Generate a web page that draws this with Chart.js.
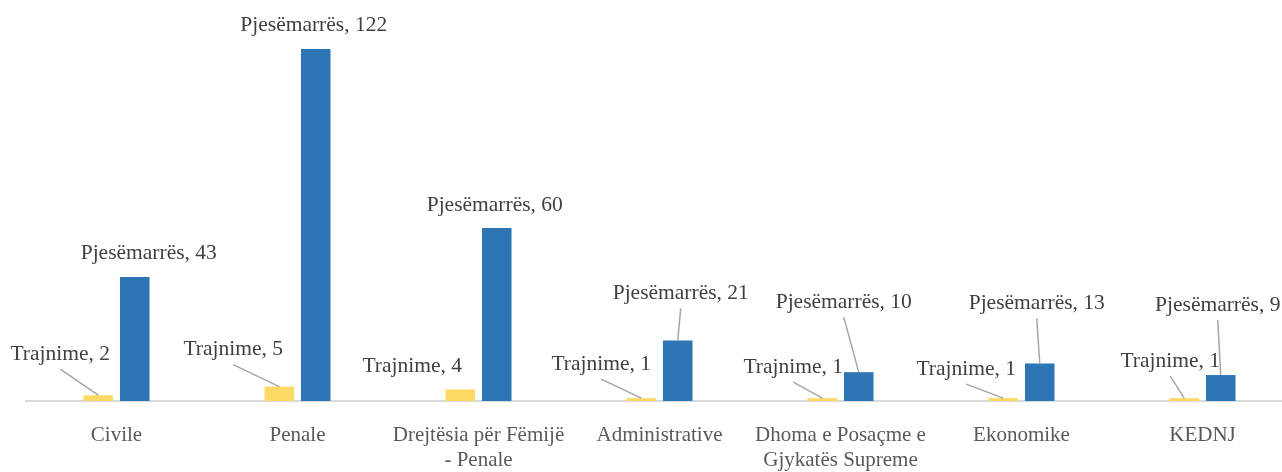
<!DOCTYPE html>
<html>
<head>
<meta charset="utf-8">
<script src="https://cdn.jsdelivr.net/npm/chart.js@4/dist/chart.umd.min.js"></script>
<style>
  html, body { margin: 0; padding: 0; background: #ffffff; overflow: hidden; }
  #wrap { width: 1300px; height: 472px; }
</style>
</head>
<body>
<div id="wrap"><canvas id="c" width="1300" height="472"></canvas></div>
<script>
// ---- data ----
const categories = [
  "Civile",
  "Penale",
  ["Drejtësia për Fëmijë", "- Penale"],
  "Administrative",
  ["Dhoma e Posaçme e", "Gjykatës Supreme"],
  "Ekonomike",
  "KEDNJ"
];
const seriesNames = ["Trajnime", "Pjesëmarrës"];
const trajnime = [2, 5, 4, 1, 1, 1, 1];
const pjesemarres = [43, 122, 60, 21, 10, 13, 9];

// label placement offsets (from bar top centre), styling only
const trajnimeLabelOffsets = [[-38,-41],[-46,-37],[-48,-23],[-40,-34],[-29,-31],[-37,-29],[-14,-37]];
const pjesLabelOffsets = [[14,-24],[-2,-24],[-2,-23],[3,-47],[-15,-70],[-3,-60],[-3,-70]];

const FONT = "'Liberation Serif', 'Times New Roman', serif";

const labelPlugin = {
  id: 'excelLabels',
  afterDatasetsDraw(chart) {
    const ctx = chart.ctx;
    const offsets = [trajnimeLabelOffsets, pjesLabelOffsets];
    chart.data.datasets.forEach((ds, di) => {
      const meta = chart.getDatasetMeta(di);
      meta.data.forEach((el, i) => {
        const [dx, dy] = offsets[di][i];
        const bx = el.x, by = el.y;
        const lx = bx + dx, ly = by + dy;
        if (Math.abs(dy) > 26) {
          ctx.save();
          ctx.strokeStyle = '#A6A6A6';
          ctx.lineWidth = 1.5;
          ctx.beginPath();
          ctx.moveTo(lx, ly + 15);
          ctx.lineTo(bx, by);
          ctx.stroke();
          ctx.restore();
        }
        ctx.save();
        ctx.font = '21.5px ' + FONT;
        ctx.fillStyle = '#404040';
        ctx.textAlign = 'center';
        ctx.textBaseline = 'middle';
        ctx.fillText(ds.label + ', ' + ds.data[i], lx, ly);
        ctx.restore();
      });
    });
  }
};

new Chart(document.getElementById('c'), {
  type: 'bar',
  data: {
    labels: categories,
    datasets: [
      { label: seriesNames[0], data: trajnime, backgroundColor: '#FFD966',
        categoryPercentage: 0.403, barPercentage: 0.81 },
      { label: seriesNames[1], data: pjesemarres, backgroundColor: '#2E75B6',
        categoryPercentage: 0.403, barPercentage: 0.81 }
    ]
  },
  options: {
    responsive: false,
    animation: false,
    devicePixelRatio: 1,
    layout: { padding: { left: 26, right: 7, top: 26, bottom: 0 } },
    plugins: {
      legend: { display: false },
      tooltip: { enabled: false }
    },
    scales: {
      x: {
        grid: { display: false, drawTicks: false },
        border: { display: true, color: '#D9D9D9', width: 2 },
        ticks: {
          color: '#595959',
          font: { family: FONT, size: 21 },
          padding: 22,
          maxRotation: 0,
          autoSkip: false
        },
        afterFit(scale) { scale.height = 71; }
      },
      y: {
        display: false,
        min: 0,
        max: 130
      }
    }
  },
  plugins: [labelPlugin]
});
</script>
</body>
</html>
